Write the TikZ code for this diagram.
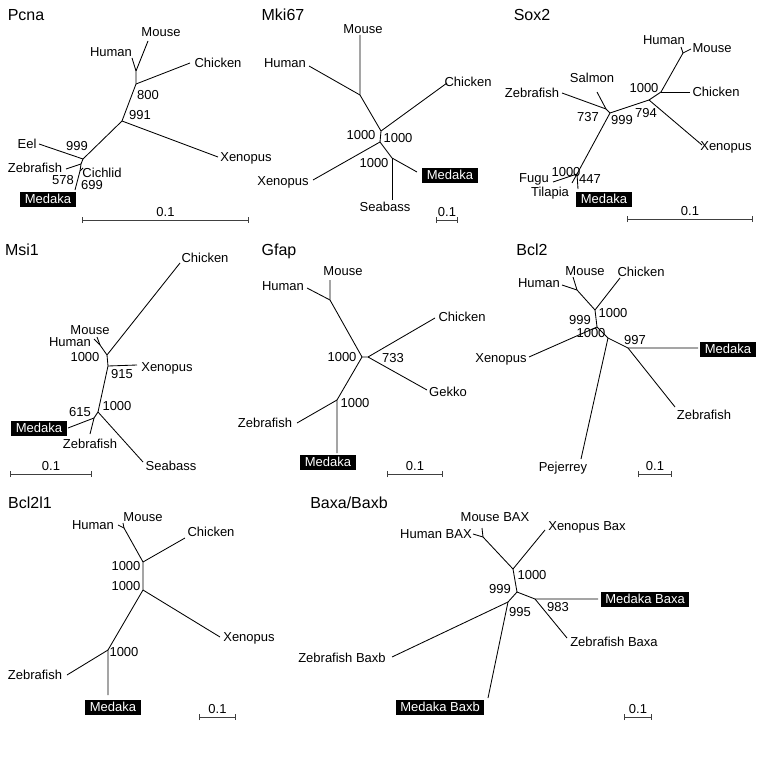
\documentclass[tikz,border=0pt]{standalone}
\usepackage{fontspec}
\setmainfont{Liberation Sans}
\usetikzlibrary{arrows.meta}

\begin{document}
\begin{tikzpicture}[
        x=1pt, y=-1pt,
        branch/.style={line width=0.85pt},
        leaf/.style={inner sep=0pt, text height=9.3pt, text depth=0pt, font=\fontsize{13}{15}\selectfont},
        boot/.style={leaf},
        medaka/.style={leaf, fill=black, text=white, inner xsep=4.5pt, minimum height=15pt},
        gene/.style={inner sep=0pt, text height=11.5pt, text depth=0pt, font=\fontsize{16}{19}\selectfont},
        scalebar/.style={line width=0.85pt, black!75, {Bar[width=6pt]}-{Bar[width=6pt]}}
    ]
    \useasboundingbox (0,0) rectangle (759,765);

    % Pcna
    \node[gene] (pcna) at (26,15) {Pcna};
    \coordinate (pc_hm) at (136,71);
    \coordinate (pc_a) at (136,84);
    \coordinate (pc_b) at (122,121);
    \coordinate (pc_c) at (83,159);
    \coordinate (pc_d) at (81,164);
    \coordinate (pc_e) at (80,171);
    \coordinate (pc_mouse_end) at (148,41);
    \coordinate (pc_human_end) at (132,58);
    \coordinate (pc_chicken_end) at (190,63);
    \coordinate (pc_xenopus_end) at (218,157);
    \coordinate (pc_eel_end) at (39,144);
    \coordinate (pc_zebrafish_end) at (66,169);
    \coordinate (pc_cichlid_end) at (83,168);
    \coordinate (pc_medaka_end) at (75,190);
    \draw[branch] (pc_mouse_end) -- (pc_hm) -- (pc_a) -- (pc_b) -- (pc_c) -- (pc_d) -- (pc_e) -- (pc_medaka_end);
    \draw[branch] (pc_human_end) -- (pc_hm);
    \draw[branch] (pc_a) -- (pc_chicken_end);
    \draw[branch] (pc_b) -- (pc_xenopus_end);
    \draw[branch] (pc_c) -- (pc_eel_end);
    \draw[branch] (pc_d) -- (pc_zebrafish_end);
    \draw[branch] (pc_e) -- (pc_cichlid_end);
    \node[leaf] (pc_mouse) at (161,32) {Mouse};
    \node[leaf] (pc_human) at (111,52) {Human};
    \node[leaf] (pc_chicken) at (218,63) {Chicken};
    \node[leaf] (pc_xenopus) at (246,157) {Xenopus};
    \node[leaf] (pc_eel) at (27,144) {Eel};
    \node[leaf] (pc_zebrafish) at (35,168) {Zebrafish};
    \node[leaf] (pc_cichlid) at (102,173) {Cichlid};
    \node[medaka] (pc_medaka) at (48,199) {Medaka};
    \node[boot] (pc_b800) at (148,95) {800};
    \node[boot] (pc_b991) at (140,115) {991};
    \node[boot] (pc_b999) at (77,146) {999};
    \node[boot] (pc_b578) at (63,180) {578};
    \node[boot] (pc_b699) at (92,185) {699};
    \coordinate (pc_s1) at (82,220);
    \coordinate (pc_s2) at (249,220);
    \draw[scalebar] (pc_s1) -- node[boot, above=3pt, black] (pc_scale) {0.1} (pc_s2);

    % Mki67
    \node[gene] (mki67) at (283,15) {Mki67};
    \coordinate (mk_hm) at (360,95);
    \coordinate (mk_a) at (381,131);
    \coordinate (mk_b) at (380,142);
    \coordinate (mk_c) at (392,158);
    \coordinate (mk_mouse_end) at (360,35);
    \coordinate (mk_human_end) at (309,66);
    \coordinate (mk_chicken_end) at (447,83);
    \coordinate (mk_xenopus_end) at (313,180);
    \coordinate (mk_seabass_end) at (392,200);
    \coordinate (mk_medaka_end) at (417,172);
    \draw[branch] (mk_mouse_end) -- (mk_hm) -- (mk_a) -- (mk_b) -- (mk_c) -- (mk_medaka_end);
    \draw[branch] (mk_human_end) -- (mk_hm);
    \draw[branch] (mk_a) -- (mk_chicken_end);
    \draw[branch] (mk_b) -- (mk_xenopus_end);
    \draw[branch] (mk_c) -- (mk_seabass_end);
    \node[leaf] (mk_mouse) at (363,29) {Mouse};
    \node[leaf] (mk_human) at (285,63) {Human};
    \node[leaf] (mk_chicken) at (468,82) {Chicken};
    \node[leaf] (mk_xenopus) at (283,181) {Xenopus};
    \node[leaf] (mk_seabass) at (385,207) {Seabass};
    \node[medaka] (mk_medaka) at (450,175) {Medaka};
    \node[boot] (mk_b1) at (361,135) {1000};
    \node[boot] (mk_b2) at (398,138) {1000};
    \node[boot] (mk_b3) at (374,163) {1000};
    \coordinate (mk_s1) at (436,220);
    \coordinate (mk_s2) at (458,220);
    \draw[scalebar] (mk_s1) -- node[boot, above=3pt, black] (mk_scale) {0.1} (mk_s2);

    % Sox2
    \node[gene] (sox2) at (532,15) {Sox2};
    \coordinate (sx_hm) at (683,53);
    \coordinate (sx_a) at (661,92);
    \coordinate (sx_b) at (649,100);
    \coordinate (sx_c) at (610,113);
    \coordinate (sx_d) at (606,109);
    \coordinate (sx_e) at (577,174);
    \coordinate (sx_human_end) at (681,47);
    \coordinate (sx_mouse_end) at (691,49);
    \coordinate (sx_chicken_end) at (690,92);
    \coordinate (sx_xenopus_end) at (702,145);
    \coordinate (sx_salmon_end) at (597,92);
    \coordinate (sx_zebrafish_end) at (562,93);
    \coordinate (sx_fugu_end) at (553,182);
    \coordinate (sx_tilapia_end) at (572,183);
    \coordinate (sx_medaka_end) at (578,189);
    \draw[branch] (sx_human_end) -- (sx_hm) -- (sx_a) -- (sx_b) -- (sx_c) -- (sx_e) -- (sx_medaka_end);
    \draw[branch] (sx_mouse_end) -- (sx_hm);
    \draw[branch] (sx_a) -- (sx_chicken_end);
    \draw[branch] (sx_b) -- (sx_xenopus_end);
    \draw[branch] (sx_c) -- (sx_d) -- (sx_zebrafish_end);
    \draw[branch] (sx_d) -- (sx_salmon_end);
    \draw[branch] (sx_e) -- (sx_fugu_end);
    \draw[branch] (sx_e) -- (sx_tilapia_end);
    \node[leaf] (sx_human) at (664,40) {Human};
    \node[leaf] (sx_mouse) at (712,48) {Mouse};
    \node[leaf] (sx_chicken) at (716,92) {Chicken};
    \node[leaf] (sx_xenopus) at (726,146) {Xenopus};
    \node[leaf] (sx_salmon) at (592,78) {Salmon};
    \node[leaf] (sx_zebrafish) at (532,93) {Zebrafish};
    \node[leaf] (sx_fugu) at (534,178) {Fugu};
    \node[leaf] (sx_tilapia) at (550,192) {Tilapia};
    \node[medaka] (sx_medaka) at (604,199) {Medaka};
    \node[boot] (sx_b1000) at (644,88) {1000};
    \node[boot] (sx_b794) at (646,113) {794};
    \node[boot] (sx_b999) at (622,120) {999};
    \node[boot] (sx_b737) at (588,117) {737};
    \node[boot] (sx_b1000b) at (566,172) {1000};
    \node[boot] (sx_b447) at (590,179) {447};
    \coordinate (sx_s1) at (627,219);
    \coordinate (sx_s2) at (753,219);
    \draw[scalebar] (sx_s1) -- node[boot, above=3pt, black] (sx_scale) {0.1} (sx_s2);

    % Msi1
    \node[gene] (msi1) at (22,250) {Msi1};
    \coordinate (ms_hm) at (100,345);
    \coordinate (ms_a) at (107,355);
    \coordinate (ms_b) at (108,366);
    \coordinate (ms_c) at (98,412);
    \coordinate (ms_d) at (94,418);
    \coordinate (ms_mouse_end) at (97,337);
    \coordinate (ms_human_end) at (94,339);
    \coordinate (ms_chicken_end) at (180,263);
    \coordinate (ms_xenopus_end) at (137,365);
    \coordinate (ms_seabass_end) at (143,462);
    \coordinate (ms_medaka_end) at (68,428);
    \coordinate (ms_zebrafish_end) at (90,434);
    \draw[branch] (ms_human_end) -- (ms_hm) -- (ms_a) -- (ms_b) -- (ms_c) -- (ms_d) -- (ms_medaka_end);
    \draw[branch] (ms_mouse_end) -- (ms_hm);
    \draw[branch] (ms_a) -- (ms_chicken_end);
    \draw[branch] (ms_b) -- (ms_xenopus_end);
    \draw[branch] (ms_c) -- (ms_seabass_end);
    \draw[branch] (ms_d) -- (ms_zebrafish_end);
    \node[leaf] (ms_chicken) at (205,258) {Chicken};
    \node[leaf] (ms_mouse) at (90,330) {Mouse};
    \node[leaf] (ms_human) at (70,342) {Human};
    \node[leaf] (ms_xenopus) at (167,367) {Xenopus};
    \node[leaf] (ms_zebrafish) at (90,444) {Zebrafish};
    \node[leaf] (ms_seabass) at (171,466) {Seabass};
    \node[medaka] (ms_medaka) at (39,428) {Medaka};
    \node[boot] (ms_b1000) at (85,357) {1000};
    \node[boot] (ms_b915) at (122,374) {915};
    \node[boot] (ms_b1000b) at (117,406) {1000};
    \node[boot] (ms_b615) at (80,412) {615};
    \coordinate (ms_s1) at (10,474);
    \coordinate (ms_s2) at (92,474);
    \draw[scalebar] (ms_s1) -- node[boot, above=3pt, black] (ms_scale) {0.1} (ms_s2);

    % Gfap
    \node[gene] (gfap) at (279,250) {Gfap};
    \coordinate (gf_hm) at (330,300);
    \coordinate (gf_a) at (362,357);
    \coordinate (gf_b) at (368,357);
    \coordinate (gf_c) at (337,400);
    \coordinate (gf_mouse_end) at (330,280);
    \coordinate (gf_human_end) at (307,288);
    \coordinate (gf_chicken_end) at (435,318);
    \coordinate (gf_gekko_end) at (427,390);
    \coordinate (gf_zebrafish_end) at (297,423);
    \coordinate (gf_medaka_end) at (337,453);
    \draw[branch] (gf_mouse_end) -- (gf_hm) -- (gf_a) -- (gf_c) -- (gf_medaka_end);
    \draw[branch] (gf_human_end) -- (gf_hm);
    \draw[branch] (gf_a) -- (gf_b) -- (gf_chicken_end);
    \draw[branch] (gf_b) -- (gf_gekko_end);
    \draw[branch] (gf_c) -- (gf_zebrafish_end);
    \node[leaf] (gf_mouse) at (343,271) {Mouse};
    \node[leaf] (gf_human) at (283,286) {Human};
    \node[leaf] (gf_chicken) at (462,317) {Chicken};
    \node[leaf] (gf_gekko) at (448,392) {Gekko};
    \node[leaf] (gf_zebrafish) at (265,423) {Zebrafish};
    \node[medaka] (gf_medaka) at (328,462) {Medaka};
    \node[boot] (gf_b1000) at (342,357) {1000};
    \node[boot] (gf_b733) at (393,358) {733};
    \node[boot] (gf_b1000b) at (355,403) {1000};
    \coordinate (gf_s1) at (387,474);
    \coordinate (gf_s2) at (443,474);
    \draw[scalebar] (gf_s1) -- node[boot, above=3pt, black] (gf_scale) {0.1} (gf_s2);

    % Bcl2
    \node[gene] (bcl2) at (532,250) {Bcl2};
    \coordinate (bc_hm) at (577,290);
    \coordinate (bc_a) at (595,310);
    \coordinate (bc_b) at (597,327);
    \coordinate (bc_c) at (608,338);
    \coordinate (bc_d) at (628,348);
    \coordinate (bc_human_end) at (562,285);
    \coordinate (bc_mouse_end) at (573,277);
    \coordinate (bc_chicken_end) at (620,278);
    \coordinate (bc_xenopus_end) at (529,357);
    \coordinate (bc_pejerrey_end) at (581,459);
    \coordinate (bc_medaka_end) at (698,348);
    \coordinate (bc_zebrafish_end) at (675,407);
    \draw[branch] (bc_human_end) -- (bc_hm) -- (bc_a) -- (bc_b) -- (bc_c) -- (bc_d) -- (bc_medaka_end);
    \draw[branch] (bc_mouse_end) -- (bc_hm);
    \draw[branch] (bc_a) -- (bc_chicken_end);
    \draw[branch] (bc_b) -- (bc_xenopus_end);
    \draw[branch] (bc_c) -- (bc_pejerrey_end);
    \draw[branch] (bc_d) -- (bc_zebrafish_end);
    \node[leaf] (bc_mouse) at (585,271) {Mouse};
    \node[leaf] (bc_chicken) at (641,272) {Chicken};
    \node[leaf] (bc_human) at (539,283) {Human};
    \node[leaf] (bc_xenopus) at (501,358) {Xenopus};
    \node[leaf] (bc_pejerrey) at (563,467) {Pejerrey};
    \node[leaf] (bc_zebrafish) at (704,415) {Zebrafish};
    \node[medaka] (bc_medaka) at (728,349) {Medaka};
    \node[boot] (bc_b1000) at (613,313) {1000};
    \node[boot] (bc_b999) at (580,320) {999};
    \node[boot] (bc_b1000b) at (591,333) {1000};
    \node[boot] (bc_b997) at (635,340) {997};
    \coordinate (bc_s1) at (638,474);
    \coordinate (bc_s2) at (672,474);
    \draw[scalebar] (bc_s1) -- node[boot, above=3pt, black] (bc_scale) {0.1} (bc_s2);

    % Bcl2l1
    \node[gene] (bcl2l1) at (30,503) {Bcl2l1};
    \coordinate (bl_hm) at (124,528);
    \coordinate (bl_a) at (143,562);
    \coordinate (bl_b) at (143,590);
    \coordinate (bl_c) at (108,650);
    \coordinate (bl_human_end) at (118,525);
    \coordinate (bl_mouse_end) at (123,523);
    \coordinate (bl_chicken_end) at (185,538);
    \coordinate (bl_xenopus_end) at (220,637);
    \coordinate (bl_zebrafish_end) at (67,675);
    \coordinate (bl_medaka_end) at (108,695);
    \draw[branch] (bl_human_end) -- (bl_hm) -- (bl_a) -- (bl_b) -- (bl_c) -- (bl_medaka_end);
    \draw[branch] (bl_mouse_end) -- (bl_hm);
    \draw[branch] (bl_a) -- (bl_chicken_end);
    \draw[branch] (bl_b) -- (bl_xenopus_end);
    \draw[branch] (bl_c) -- (bl_zebrafish_end);
    \node[leaf] (bl_human) at (93,525) {Human};
    \node[leaf] (bl_mouse) at (143,517) {Mouse};
    \node[leaf] (bl_chicken) at (211,532) {Chicken};
    \node[leaf] (bl_xenopus) at (249,637) {Xenopus};
    \node[leaf] (bl_zebrafish) at (35,675) {Zebrafish};
    \node[medaka] (bl_medaka) at (113,707) {Medaka};
    \node[boot] (bl_b1000) at (126,566) {1000};
    \node[boot] (bl_b1000b) at (126,586) {1000};
    \node[boot] (bl_b1000c) at (124,652) {1000};
    \coordinate (bl_s1) at (199,717);
    \coordinate (bl_s2) at (236,717);
    \draw[scalebar] (bl_s1) -- node[boot, above=3pt, black] (bl_scale) {0.1} (bl_s2);

    % Baxa/Baxb
    \node[gene] (bax) at (349,503) {Baxa/Baxb};
    \coordinate (bx_hm) at (483,537);
    \coordinate (bx_a) at (513,569);
    \coordinate (bx_b) at (517,592);
    \coordinate (bx_c) at (535,599);
    \coordinate (bx_d) at (508,602);
    \coordinate (bx_human_end) at (473,534);
    \coordinate (bx_mouse_end) at (482,528);
    \coordinate (bx_xenopus_end) at (545,530);
    \coordinate (bx_medakaa_end) at (598,599);
    \coordinate (bx_zebrafisha_end) at (567,638);
    \coordinate (bx_zebrafishb_end) at (392,657);
    \coordinate (bx_medakab_end) at (488,698);
    \draw[branch] (bx_human_end) -- (bx_hm) -- (bx_a) -- (bx_b) -- (bx_c) -- (bx_medakaa_end);
    \draw[branch] (bx_mouse_end) -- (bx_hm);
    \draw[branch] (bx_a) -- (bx_xenopus_end);
    \draw[branch] (bx_c) -- (bx_zebrafisha_end);
    \draw[branch] (bx_b) -- (bx_d) -- (bx_medakab_end);
    \draw[branch] (bx_d) -- (bx_zebrafishb_end);
    \node[leaf] (bx_mouse) at (495,517) {Mouse BAX};
    \node[leaf] (bx_human) at (436,534) {Human BAX};
    \node[leaf] (bx_xenopus) at (587,526) {Xenopus Bax};
    \node[medaka] (bx_medakaa) at (645,599) {Medaka Baxa};
    \node[leaf] (bx_zebrafisha) at (614,642) {Zebrafish Baxa};
    \node[leaf] (bx_zebrafishb) at (342,658) {Zebrafish Baxb};
    \node[medaka] (bx_medakab) at (440,707) {Medaka Baxb};
    \node[boot] (bx_b1000) at (532,575) {1000};
    \node[boot] (bx_b999) at (500,589) {999};
    \node[boot] (bx_b983) at (558,607) {983};
    \node[boot] (bx_b995) at (520,612) {995};
    \coordinate (bx_s1) at (624,717);
    \coordinate (bx_s2) at (652,717);
    \draw[scalebar] (bx_s1) -- node[boot, above=3pt, black] (bx_scale) {0.1} (bx_s2);

\end{tikzpicture}
\end{document}
